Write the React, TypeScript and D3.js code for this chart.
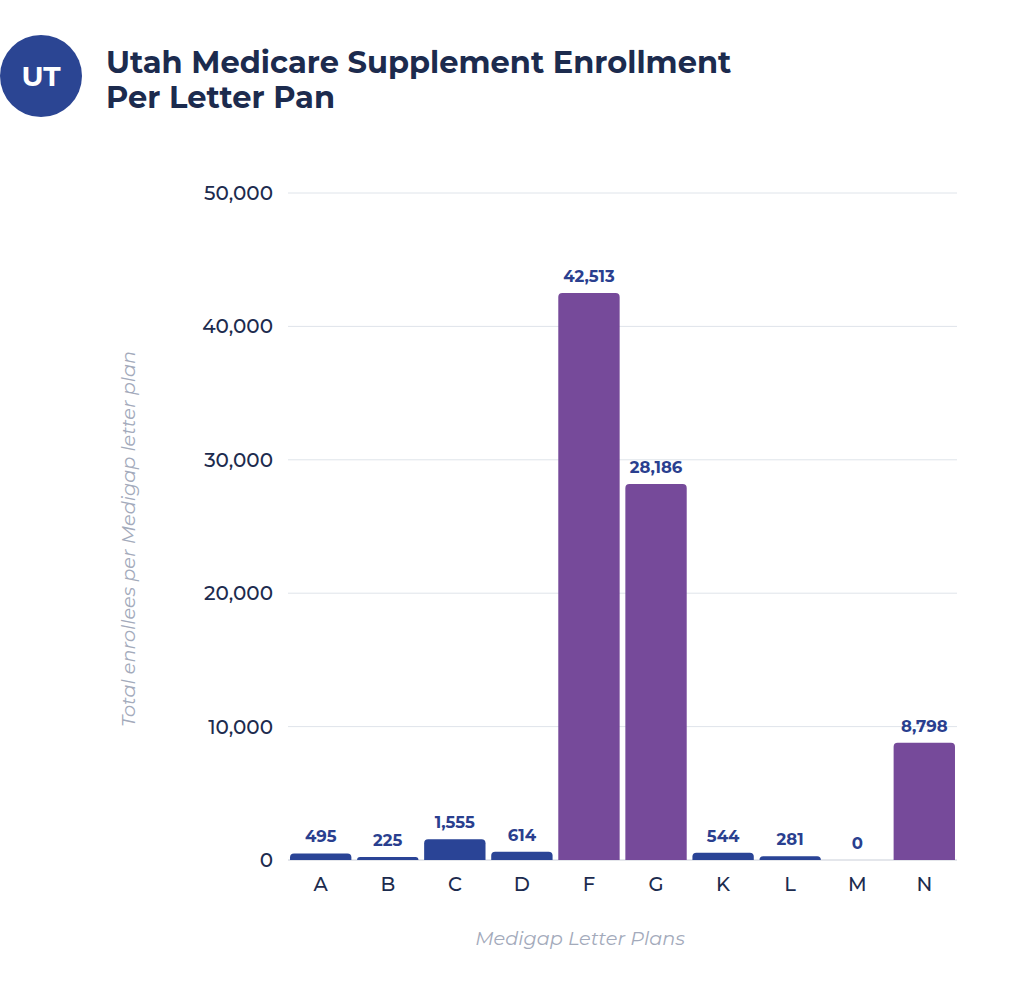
import React from "react";
import * as d3 from "d3";

const categories = ["A", "B", "C", "D", "F", "G", "K", "L", "M", "N"];
const values = [495, 225, 1555, 614, 42513, 28186, 544, 281, 0, 8798];
const highlighted = ["F", "G", "N"];
const yTicks = [0, 10000, 20000, 30000, 40000, 50000];

const W = 1024;
const H = 985;
const left = 288;
const right = 957;
const top = 193;
const bottom = 860;

export default function App() {
  const x = d3.scaleBand<string>().domain(categories).range([left, right]).paddingInner(0.085).paddingOuter(0.03);
  const y = d3.scaleLinear().domain([0, 50000]).range([bottom, top]);
  const fmt = d3.format(",");
  const r = 4;
  const barPath = (cx: number, w: number, y0: number, y1: number) => {
    const h = y0 - y1;
    if (h <= 0) return "";
    const rr = Math.min(r, h, w / 2);
    const p = d3.path();
    p.moveTo(cx, y0);
    p.lineTo(cx, y1 + rr);
    p.arcTo(cx, y1, cx + rr, y1, rr);
    p.lineTo(cx + w - rr, y1);
    p.arcTo(cx + w, y1, cx + w, y1 + rr, rr);
    p.lineTo(cx + w, y0);
    p.closePath();
    return p.toString();
  };
  const font = "Montserrat, Inter, 'Open Sans', sans-serif";
  return (
    <svg width={W} height={H} style={{ position: "absolute", left: 0, top: 0, background: "#fff" }} fontFamily={font}>
      <rect x={0} y={0} width={W} height={H} fill="#fff" />
      <circle cx={41} cy={76} r={41} fill="#2b4593" />
      <text x={41} y={86} textAnchor="middle" fill="#fff" fontSize={28} fontWeight={700}>UT</text>
      <text x={106} y={73} fill="#1c2b4e" fontSize={30.5} fontWeight={700}>Utah Medicare Supplement Enrollment</text>
      <text x={106} y={108} fill="#1c2b4e" fontSize={30.5} fontWeight={700}>Per Letter Pan</text>
      {yTicks.map((t) => (
        <g key={t}>
          <line x1={left} x2={right} y1={y(t)} y2={y(t)} stroke={t === 0 ? "#c9ced8" : "#dfe4ea"} strokeWidth={1} />
          <text x={273} y={y(t) + 7} textAnchor="end" fill="#1c2b4e" fontSize={20} fontWeight={500}>{fmt(t)}</text>
        </g>
      ))}
      {categories.map((c, i) => {
        const v = values[i];
        const bx = x(c)!;
        const bw = x.bandwidth();
        const fill = highlighted.includes(c) ? "#764a9a" : "#2a4496";
        return (
          <g key={c}>
            <path d={barPath(bx, bw, y(0), y(v))} fill={fill} />
            <text x={bx + bw / 2} y={y(v) - 11} textAnchor="middle" fill="#2a3f8f" fontSize={16.5} fontWeight={700}>{fmt(v)}</text>
            <text x={bx + bw / 2} y={891} textAnchor="middle" fill="#1c2b4e" fontSize={19.5} fontWeight={500}>{c}</text>
          </g>
        );
      })}
      <text transform={`translate(135,539) rotate(-90)`} textAnchor="middle" fill="#a3aabb" fontSize={19.3} fontStyle="italic">Total enrollees per Medigap letter plan</text>
      <text x={580} y={945} textAnchor="middle" fill="#a3aabb" fontSize={19.3} fontStyle="italic">Medigap Letter Plans</text>
    </svg>
  );
}
